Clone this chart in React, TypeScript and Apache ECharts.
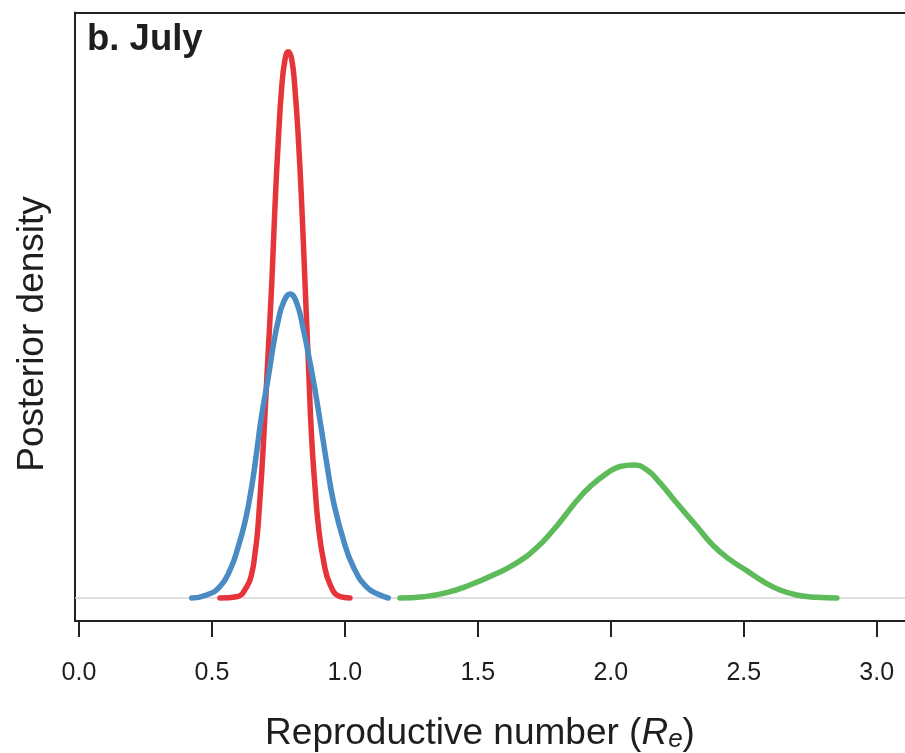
import { useEffect, useRef } from "react";
import * as echarts from "echarts";

// Posterior density curves: [R_e, density]
const redCurve: number[][] = [
  [0.530, 0], [0.593, 0.014], [0.631, 0.124], [0.650, 0.271], [0.662, 0.49],
  [0.671, 0.709], [0.678, 0.98], [0.691, 1.56], [0.708, 2.5], [0.725, 3.45],
  [0.737, 4.286], [0.750, 5.03], [0.762, 5.58], [0.775, 5.9], [0.787, 5.984],
  [0.800, 5.9], [0.812, 5.58], [0.825, 5.03], [0.838, 4.286], [0.850, 3.45],
  [0.863, 2.55], [0.875, 1.75], [0.888, 1.2], [0.900, 0.8], [0.919, 0.42],
  [0.944, 0.15], [0.982, 0.014], [1.019, 0],
];

const blueCurve: number[][] = [
  [0.424, 0], [0.480, 0.033], [0.530, 0.124], [0.568, 0.307], [0.599, 0.562],
  [0.624, 0.83], [0.643, 1.11], [0.658, 1.38], [0.670, 1.64], [0.687, 2.0],
  [0.712, 2.42], [0.731, 2.77], [0.750, 3.05], [0.768, 3.23], [0.794, 3.33],
  [0.819, 3.23], [0.844, 2.94], [0.862, 2.68], [0.881, 2.39], [0.900, 2.06],
  [0.919, 1.71], [0.932, 1.47], [0.956, 1.07], [0.994, 0.64], [1.032, 0.34],
  [1.082, 0.12], [1.132, 0.033], [1.163, 0],
];

const greenCurve: number[][] = [
  [1.207, 0], [1.295, 0.014], [1.383, 0.058], [1.470, 0.142], [1.558, 0.252],
  [1.646, 0.385], [1.721, 0.55], [1.784, 0.745], [1.834, 0.925], [1.872, 1.065],
  [1.922, 1.22], [1.985, 1.365], [2.035, 1.44], [2.085, 1.457], [2.135, 1.405],
  [2.185, 1.26], [2.248, 1.04], [2.323, 0.785], [2.385, 0.575], [2.448, 0.42],
  [2.511, 0.3], [2.574, 0.18], [2.636, 0.088], [2.699, 0.033], [2.774, 0.008],
  [2.850, 0],
];

const xTickValues: number[] = [0, 0.5, 1, 1.5, 2, 2.5, 3];
const xTickLabels: string[] = ["0.0", "0.5", "1.0", "1.5", "2.0", "2.5", "3.0"];

const panelTitle = "b. July";
const yTitle = "Posterior density";

const FONT = '"Liberation Sans", Arial, Helvetica, sans-serif';
const INK = "#1e1e1e";
const FRAME = "#222";

export default function App() {
  const ref = useRef<HTMLDivElement>(null);

  useEffect(() => {
    if (!ref.current) return;
    const chart = echarts.init(ref.current, undefined, { renderer: "svg" });

    const lineSeries = (name: string, data: number[][], color: string, extra: any = {}) => ({
      name,
      type: "line",
      xAxisIndex: 0,
      yAxisIndex: 0,
      data,
      symbol: "none",
      showSymbol: false,
      smooth: 0.5,
      lineStyle: { color, width: 5.5, cap: "round", join: "round" },
      silent: true,
      ...extra,
    });

    const X_MIN = -0.015;
    const X_MAX = 3.1064;

    chart.setOption({
      animation: false,
      grid: {
        left: 75,
        top: 12.5,
        right: 0,
        bottom: 132,
        show: false,
      },
      xAxis: [
        {
          type: "value",
          min: X_MIN,
          max: X_MAX,
          position: "bottom",
          axisLine: { show: true, onZero: false, lineStyle: { color: FRAME, width: 2 } },
          axisTick: {
            show: true,
            customValues: xTickValues,
            length: 16,
            lineStyle: { color: FRAME, width: 2 },
          },
          axisLabel: {
            customValues: xTickValues,
            formatter: (v: number) => {
              const i = xTickValues.findIndex((t) => Math.abs(t - v) < 1e-6);
              return i >= 0 ? xTickLabels[i] : "";
            },
            margin: 37,
            fontSize: 25,
            lineHeight: 25,
            fontFamily: FONT,
            color: INK,
          },
          splitLine: { show: false },
        },
        {
          type: "value",
          min: X_MIN,
          max: X_MAX,
          position: "top",
          axisLine: { show: true, onZero: false, lineStyle: { color: FRAME, width: 2 } },
          axisTick: { show: false },
          axisLabel: { show: false },
          splitLine: { show: false },
        },
      ],
      yAxis: {
        type: "value",
        min: -0.252,
        max: 6.413,
        position: "left",
        axisLine: { show: true, onZero: false, lineStyle: { color: FRAME, width: 2 } },
        axisTick: { show: false },
        axisLabel: { show: false },
        splitLine: { show: false },
      },
      series: [
        lineSeries("red", redCurve, "#E6353A", {
          markLine: {
            silent: true,
            z: 1,
            symbol: ["none", "none"],
            label: { show: false },
            lineStyle: { color: "#d6d6d6", width: 1.5, type: "solid" },
            data: [{ yAxis: 0 }],
          },
        }),
        lineSeries("blue", blueCurve, "#4A8BC4"),
        lineSeries("green", greenCurve, "#5DBB5A"),
      ],
      graphic: [
        {
          type: "text",
          x: 87,
          y: 37,
          style: {
            text: panelTitle,
            font: `bold 36.5px ${FONT}`,
            fill: INK,
            textAlign: "left",
            textVerticalAlign: "middle",
          },
        },
        {
          type: "text",
          x: 30.8,
          y: 334,
          rotation: Math.PI / 2,
          style: {
            text: yTitle,
            font: `37px ${FONT}`,
            fill: INK,
            textAlign: "center",
            textVerticalAlign: "middle",
          },
        },
        {
          type: "text",
          x: 480,
          y: 731,
          style: {
            text: "{m|Reproductive number (}{i|R}{s|e}{m|)}",
            fill: INK,
            textAlign: "center",
            textVerticalAlign: "middle",
            rich: {
              m: { fontSize: 37, fontFamily: FONT, lineHeight: 40, fill: INK },
              i: { fontSize: 37, fontFamily: FONT, fontStyle: "italic", lineHeight: 40, fill: INK },
              s: {
                fontSize: 26,
                fontFamily: FONT,
                fontStyle: "italic",
                lineHeight: 22,
                verticalAlign: "bottom",
                fill: INK,
              },
            },
          },
        },
      ],
    });

    return () => chart.dispose();
  }, []);

  return (
    <div
      ref={ref}
      style={{ position: "fixed", left: 0, top: 0, width: 905, height: 753 }}
    />
  );
}
